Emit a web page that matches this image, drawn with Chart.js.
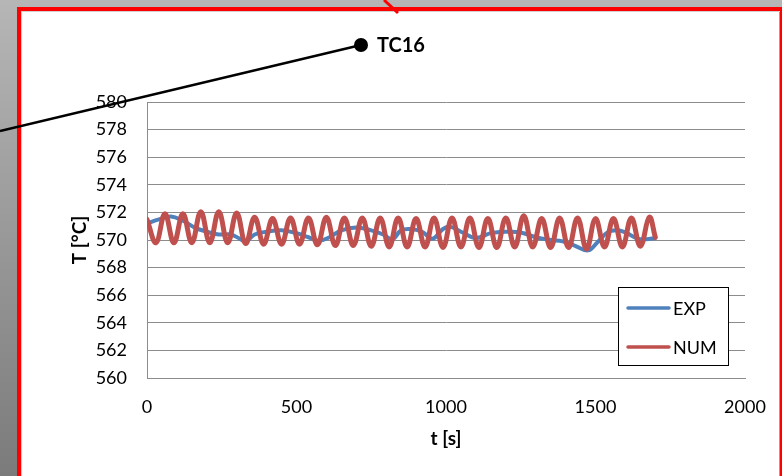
<!DOCTYPE html>
<html>
<head>
<meta charset="utf-8">
<title>TC16</title>
<script src="https://cdn.jsdelivr.net/npm/chart.js@4.4.1/dist/chart.umd.min.js"></script>
<style>
    html, body { margin: 0; padding: 0; }
    body {
        width: 782px; height: 476px; overflow: hidden; position: relative;
        background: linear-gradient(to bottom, #b6b6b6, #7b7b7b);
    }
    #frame {
        position: absolute; left: 17px; top: 7px; width: 765px; height: 480px;
        box-sizing: border-box; background: #fff;
        border: 4px solid #ff0000; border-right-width: 2px; border-bottom: none;
        box-shadow: inset 1px 1px 0 #d0d0d0, inset -1px 0 0 #a0a0a0;
    }
    #chart { position: absolute; left: 0; top: 0; }
</style>
</head>
<body>
<div id="frame"></div>
<canvas id="chart" width="782" height="476"></canvas>
<script>
// TC16 thermocouple: measured vs computed temperature
const probeLabel = 'TC16';
const seriesNames = ['EXP', 'NUM'];

// measured (EXP)
const expTimes = [0, 40, 80, 120, 160, 200, 240, 280, 310, 330, 360, 400, 450, 500, 540, 575, 610,
    650, 700, 750, 790, 820, 850, 880, 920, 955, 990, 1015, 1050, 1100, 1150, 1200, 1250, 1300,
    1350, 1390, 1430, 1475, 1505, 1540, 1570, 1600, 1640, 1670, 1700];
const expValues = [571.2, 571.5, 571.7, 571.4, 570.9, 570.6, 570.4, 570.4, 570.1, 569.9, 570.4,
    570.6, 570.7, 570.5, 570.2, 569.95, 570.2, 570.7, 570.9, 570.7, 570.4, 570.05, 570.7, 570.8,
    570.6, 570.1, 570.8, 570.95, 570.6, 570.15, 570.5, 570.6, 570.55, 570.2, 570.0, 569.9, 569.6,
    569.25, 569.8, 570.55, 570.7, 570.55, 570.1, 570.05, 570.15];

// computed (NUM)
const numTimes = [0, 30, 60, 90, 120, 150, 180, 210, 240, 270, 300, 330, 360, 390, 420, 450, 480,
    510, 540, 570, 600, 630, 660, 690, 720, 750, 780, 810, 840, 870, 900, 930, 960, 990, 1020,
    1050, 1080, 1110, 1140, 1170, 1200, 1230, 1260, 1290, 1320, 1350, 1380, 1410, 1440, 1470,
    1500, 1530, 1560, 1590, 1620, 1650, 1680, 1700];
const numValues = [571.5, 569.8, 571.9, 569.8, 571.9, 569.8, 572.05, 569.8, 572.05, 569.8, 571.95,
    569.75, 571.65, 569.7, 571.55, 569.7, 571.6, 569.7, 571.6, 569.65, 571.65, 569.6, 571.6,
    569.6, 571.6, 569.55, 571.6, 569.5, 571.6, 569.5, 571.55, 569.5, 571.6, 569.45, 571.6, 569.5,
    571.6, 569.45, 571.55, 569.45, 571.6, 569.5, 571.75, 569.5, 571.55, 569.45, 571.6, 569.45,
    571.6, 569.35, 571.55, 569.5, 571.55, 569.5, 571.6, 569.55, 571.65, 570.2];

const seriesColors = ['#4f81bd', '#c0504d'];

Chart.defaults.font.family = 'Lato, "Open Sans", sans-serif';
Chart.defaults.color = '#000';

const toPoints = (xs, ys) => xs.map((t, i) => ({ x: t, y: ys[i] }));

// annotation + boxed legend, drawn on top of everything
const overlay = {
    id: 'overlay',
    afterDraw(chart) {
        const ctx = chart.ctx;
        ctx.save();

        // pointer line to the probe marker
        ctx.strokeStyle = '#000';
        ctx.lineWidth = 2.5;
        ctx.beginPath();
        ctx.moveTo(0, 131);
        ctx.lineTo(361, 45);
        ctx.stroke();
        ctx.beginPath();
        ctx.arc(361, 45, 7, 0, Math.PI * 2);
        ctx.fillStyle = '#000';
        ctx.fill();
        ctx.font = 'bold 20px Lato';
        ctx.textBaseline = 'middle';
        ctx.fillText(probeLabel, 377, 46);

        // red pointer stub at the top
        ctx.strokeStyle = '#ff0000';
        ctx.lineWidth = 3;
        ctx.beginPath();
        ctx.moveTo(384, 0);
        ctx.lineTo(398, 13);
        ctx.stroke();

        // legend box
        ctx.fillStyle = '#fff';
        ctx.fillRect(618.5, 287.5, 110, 78);
        ctx.strokeStyle = '#000';
        ctx.lineWidth = 1;
        ctx.strokeRect(618.5, 287.5, 110, 78);
        chart.data.datasets.forEach((ds, i) => {
            const y = 308 + i * 39;
            ctx.strokeStyle = ds.borderColor;
            ctx.lineWidth = 3.5;
            ctx.lineCap = 'round';
            ctx.beginPath();
            ctx.moveTo(628, y);
            ctx.lineTo(669, y);
            ctx.stroke();
            ctx.fillStyle = '#000';
            ctx.font = '18px Lato';
            ctx.fillText(ds.label, 673, y + 1);
        });
        ctx.restore();
    }
};

const zeroPad = s => { s.paddingLeft = 0; s.paddingRight = 0; s.paddingTop = 0; s.paddingBottom = 0; };

new Chart(document.getElementById('chart'), {
    type: 'line',
    data: {
        datasets: [
            {
                label: seriesNames[0],
                data: toPoints(expTimes, expValues),
                borderColor: seriesColors[0],
                borderWidth: 4,
                tension: 0.4,
                pointRadius: 0,
                order: 2
            },
            {
                label: seriesNames[1],
                data: toPoints(numTimes, numValues),
                borderColor: seriesColors[1],
                borderWidth: 5,
                tension: 0.4,
                pointRadius: 0,
                order: 1
            }
        ]
    },
    options: {
        responsive: false,
        animation: false,
        layout: { padding: { left: 0, top: 102, right: 37, bottom: 0 } },
        plugins: { legend: { display: false }, tooltip: { enabled: false } },
        elements: { line: { borderCapStyle: 'round', borderJoinStyle: 'round' } },
        scales: {
            x: {
                type: 'linear',
                min: 0,
                max: 2000,
                ticks: {
                    stepSize: 500, font: { size: 18 }, padding: 18, maxRotation: 0,
                    callback: v => String(v)
                },
                grid: { display: false, drawTicks: false },
                border: { display: true, color: '#8c8c8c', width: 1 },
                title: {
                    display: true, text: 't [s]',
                    font: { size: 19, weight: 'bold' },
                    padding: { top: 0, bottom: 26 }
                },
                afterFit: s => { s.height = 98; zeroPad(s); }
            },
            y: {
                min: 560,
                max: 580,
                ticks: { stepSize: 2, font: { size: 18 }, padding: 20, callback: v => String(v) },
                grid: { color: '#8c8c8c', drawTicks: false },
                border: { display: true, color: '#8c8c8c', width: 1 },
                title: {
                    display: true, text: 'T [°C]',
                    font: { size: 19, weight: 'bold' },
                    padding: { top: 68, bottom: 0 }
                },
                afterFit: s => { s.width = 147; zeroPad(s); }
            }
        }
    },
    plugins: [overlay]
});
</script>
</body>
</html>
